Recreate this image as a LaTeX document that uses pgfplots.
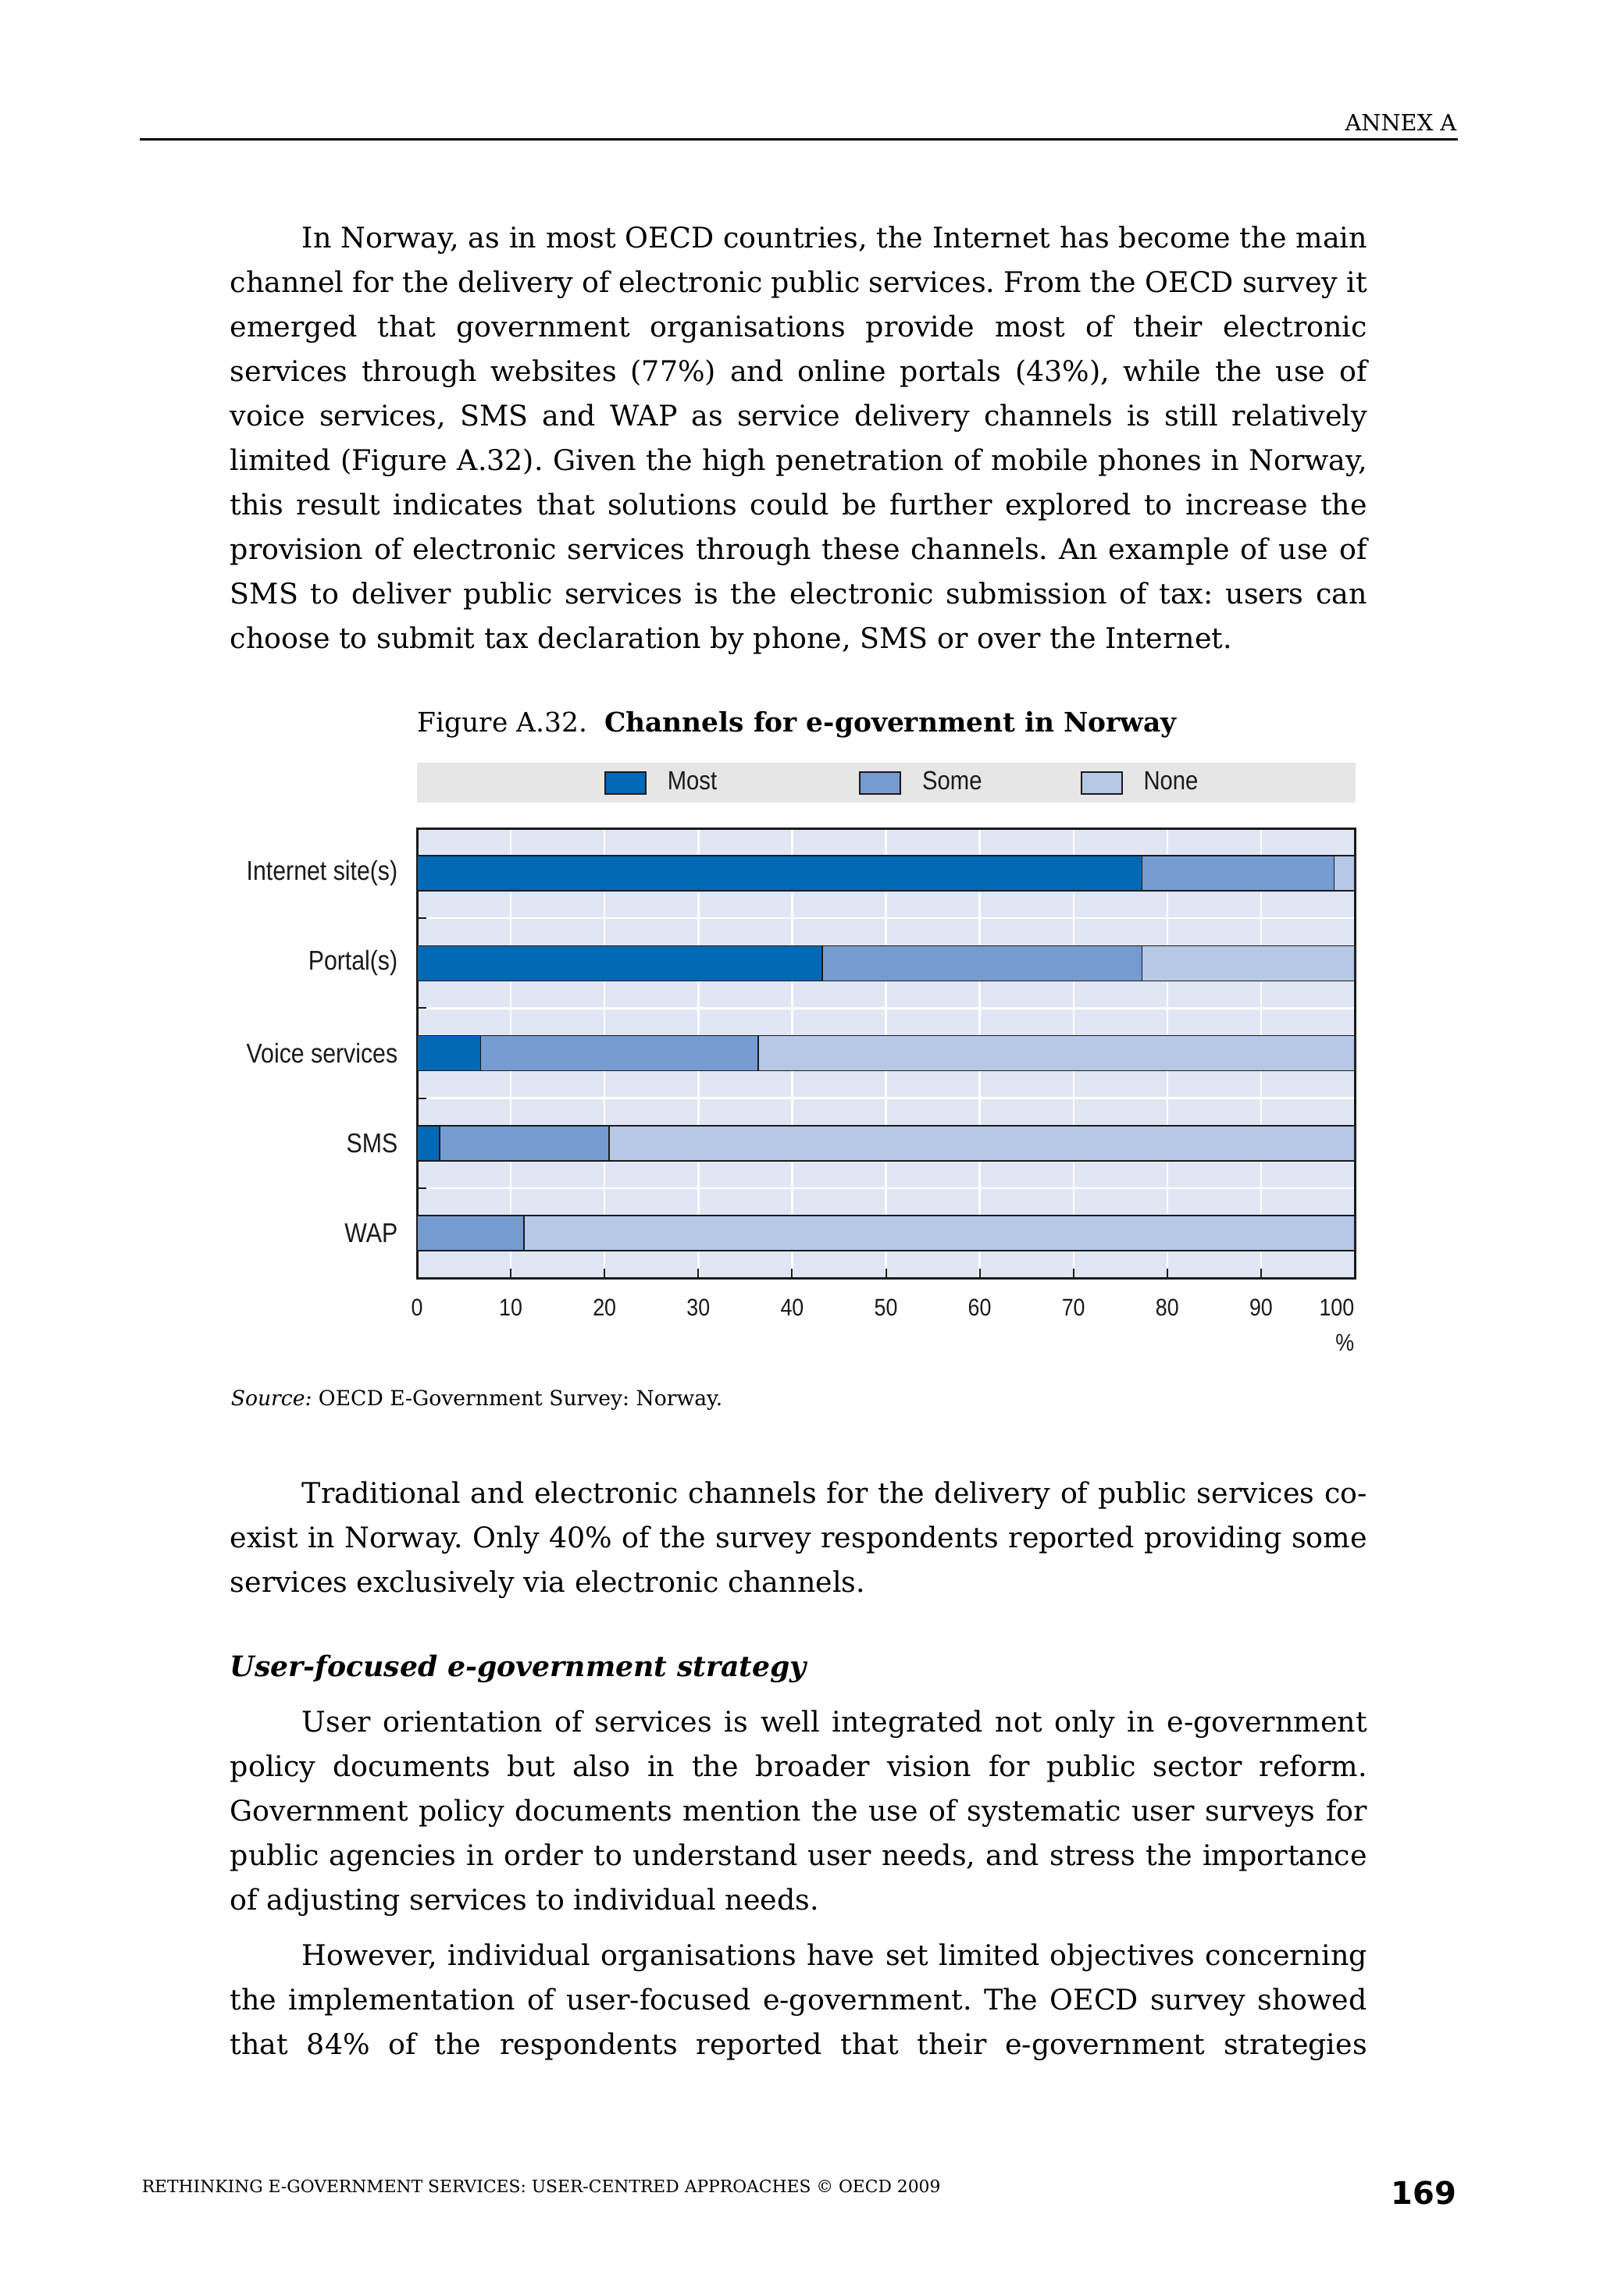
\documentclass[border=0pt]{standalone}
\usepackage{fontspec}
\setmainfont{DejaVu Serif}
\newfontfamily\chartfont[FakeStretch=0.87]{Liberation Sans}
\newfontfamily\pnfont{DejaVu Sans}
\usepackage{pgfplots}
\pgfplotsset{compat=1.18}

\definecolor{mostc}{HTML}{0068B4}
\definecolor{somec}{HTML}{769BD0}
\definecolor{nonec}{HTML}{B6C8E6}
\definecolor{plotbg}{HTML}{E1E6F4}
\definecolor{legbg}{HTML}{E6E6E6}
\definecolor{framec}{HTML}{1A1A1A}

\newlength\colw
\setlength\colw{364pt}
% a line is set twice in the same place: odd words, then even words
\def\wend{\wend@}
\def\wglue{\hskip\fontdimen2\font plus 0.25em minus 0.1em}
\def\wsV#1 #2\wend{#1\ifx\wend#2\wend\else\wglue\wsP#2\wend\fi}
\def\wsP#1 #2\wend{\phantom{#1}\ifx\wend#2\wend\else\wglue\wsV#2\wend\fi}
% one justified line, an indented first line, a last line
\newcommand\jl[1]{\hbox to\colw{\rlap{\hbox to\colw{\wsV#1 \wend}}\hbox to\colw{\wsP#1 \wend}}}
\newcommand\fl[1]{\hbox to\colw{\rlap{\hbox to\colw{\hskip23pt \wsV#1 \wend}}\hbox to\colw{\hskip23pt \wsP#1 \wend}}}
\newcommand\el[1]{\hbox{\rlap{\hbox{\wsV#1 \wend}}\hbox{\wsP#1 \wend}}}
\newcommand\body{\fontsize{9.1}{14.25}\selectfont\baselineskip=14.25pt}

\begin{document}
\begin{tikzpicture}
\fill[white] (0,0) rectangle (512pt,-735.25pt);
\path[use as bounding box] (0,0) rectangle (512pt,-735.25pt);

\begin{scope}[x=0.25pt,y=-0.25pt]
  % running head
  \node[anchor=base east, inner sep=0pt] at (1866,168) {\fontsize{7.2}{8}\selectfont\el{ANNEX A}};
  \draw[line width=0.75pt] (179,179) -- (1867,179);

  \node[anchor=base west, inner sep=0pt] at (294,318) {\vtop{\body
    \fl{In Norway, as in most OECD countries, the Internet has become the main}
    \jl{channel for the delivery of electronic public services. From the OECD survey it}
    \jl{emerged that government organisations provide most of their electronic}
    \jl{services through websites (77\%) and online portals (43\%), while the use of}
    \jl{voice services, SMS and WAP as service delivery channels is still relatively}
    \jl{limited (Figure A.32). Given the high penetration of mobile phones in Norway,}
    \jl{this result indicates that solutions could be further explored to increase the}
    \jl{provision of electronic services through these channels. An example of use of}
    \jl{SMS to deliver public services is the electronic submission of tax: users can}
    \el{choose to submit tax declaration by phone, SMS or over the Internet.}}};

  \node[anchor=base west, inner sep=0pt] at (534,937) {\fontsize{8.6}{10}\selectfont
    \el{Figure A.32.}\hskip5.5pt\textbf{\el{Channels for e-government in Norway}}};

  \node[anchor=base west, inner sep=0pt] at (295,1800) {\fontsize{6.65}{8}\selectfont
    \el{\textit{Source:} OECD E-Government Survey: Norway.}};

  \node[anchor=base west, inner sep=0pt] at (294,1925) {\vtop{\body
    \fl{Traditional and electronic channels for the delivery of public services co-}
    \jl{exist in Norway. Only 40\% of the survey respondents reported providing some}
    \el{services exclusively via electronic channels.}}};

  \node[anchor=base west, inner sep=0pt] at (294,2147) {\fontsize{9.05}{11}\selectfont
    \textbf{\textit{\el{User-focused e-government strategy}}}};

  \node[anchor=base west, inner sep=0pt] at (294,2218) {\vtop{\body
    \fl{User orientation of services is well integrated not only in e-government}
    \jl{policy documents but also in the broader vision for public sector reform.}
    \jl{Government policy documents mention the use of systematic user surveys for}
    \jl{public agencies in order to understand user needs, and stress the importance}
    \el{of adjusting services to individual needs.}}};

  \node[anchor=base west, inner sep=0pt] at (294,2517) {\vtop{\body
    \fl{However, individual organisations have set limited objectives concerning}
    \jl{the implementation of user-focused e-government. The OECD survey showed}
    \jl{that 84\% of the respondents reported that their e-government strategies}}};

  % running foot
  \node[anchor=base west, inner sep=0pt] at (181,2808) {\fontsize{5.45}{6}\selectfont
    \el{RETHINKING E-GOVERNMENT SERVICES: USER-CENTRED APPROACHES © OECD 2009}};
  \node[anchor=base east, inner sep=0pt] at (1866,2823) {\pnfont\bfseries\fontsize{10}{12}\selectfont 169};

  % legend band
  \fill[legbg] (534,977) rectangle (1736,1028);
\end{scope}

\begin{axis}[
    at={(133.5pt,-265.25pt)}, anchor=north west,
    scale only axis, width=300.25pt, height=144pt,
    xbar stacked, bar width=11.25pt,
    xmin=0, xmax=100, ymin=-0.5, ymax=4.5, y dir=reverse,
    axis background/.style={fill=plotbg},
    axis line style={line width=0.75pt, color=framec},
    tick align=inside, xtick pos=bottom, ytick pos=left,
    major tick length=3pt,
    tick style={color=framec, line width=0.5pt},
    xtick={0,10,...,90},
    extra x ticks={100}, extra x tick labels={100},
    extra x tick style={grid=none, xticklabel style={anchor=north east}},
    ytick={0.5,1.5,2.5,3.5}, yticklabels={,,,},
    extra y ticks={0,1,2,3,4},
    extra y tick labels={Internet site(s),Portal(s),Voice services,SMS,WAP},
    extra y tick style={major tick length=0pt, grid=none},
    xmajorgrids, ymajorgrids,
    major grid style={white, line width=0.6pt},
    /pgf/number format/assume math mode=true,
    xticklabel style={font=\chartfont\fontsize{7.7}{9}\selectfont, inner sep=0pt, yshift=-6.5pt, text=framec},
    yticklabel style={font=\chartfont\fontsize{8.7}{10}\selectfont, inner sep=0pt, xshift=-6pt, text=framec},
    xlabel={\%},
    xlabel style={at={(axis description cs:1,0)}, anchor=north east, inner sep=0pt, yshift=-17.75pt,
      font=\chartfont\fontsize{7.7}{9}\selectfont, text=framec},
    legend columns=3,
    legend style={at={(0.199,1.1007)}, anchor=west, draw=none, fill=none, inner sep=0pt,
      font=\chartfont\fontsize{8.4}{10}\selectfont, text=framec,
      nodes={inner sep=0pt},
      /tikz/every odd column/.append style={column sep=6.75pt},
      /tikz/column 2/.append style={column sep=45.5pt},
      /tikz/column 4/.append style={column sep=31.5pt}},
    legend image code/.code={\draw[#1, draw=framec, line width=0.5pt] (0pt,-3.5pt) rectangle (13pt,3.5pt);},
]
\addplot[fill=mostc, draw=framec, line width=0.4pt] coordinates {(77.3,0) (43.2,1) (6.8,2) (2.4,3) (0,4)};
\addplot[fill=somec, draw=framec, line width=0.4pt] coordinates {(20.5,0) (34.1,1) (29.6,2) (18.1,3) (11.4,4)};
\addplot[fill=nonec, draw=framec, line width=0.4pt] coordinates {(2.2,0) (22.7,1) (63.6,2) (79.5,3) (88.6,4)};
\legend{Most,Some,None}
\end{axis}
\end{tikzpicture}
\end{document}
